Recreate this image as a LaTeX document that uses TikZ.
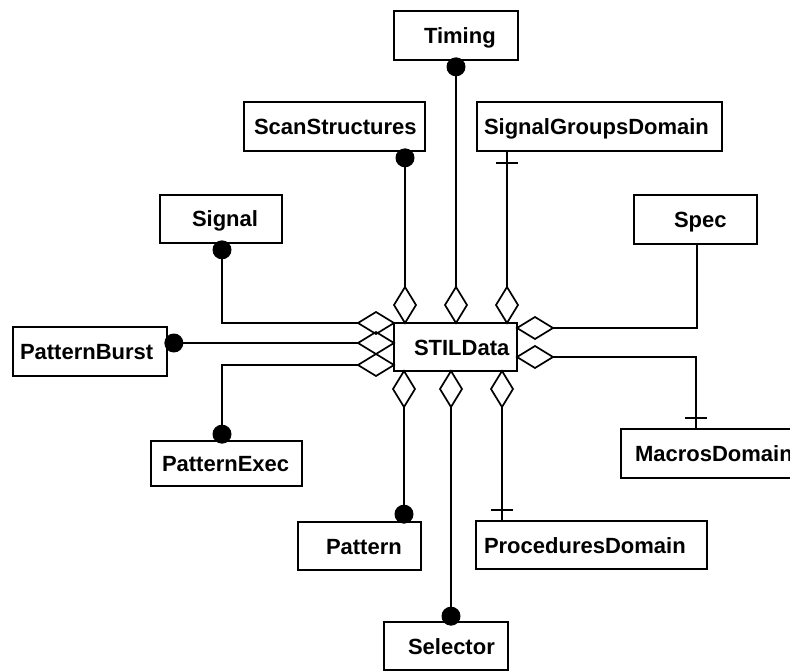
\documentclass[tikz,border=0pt]{standalone}
\usepackage{fontspec}
\setmainfont{Liberation Sans}
\usetikzlibrary{calc}
\begin{document}
\begin{tikzpicture}[x=1pt,y=-1pt,
  line width=1.7pt,
  box/.style={draw, line width=1.7pt, inner xsep=0pt, inner ysep=0pt,
    text height=16pt, text depth=0pt, align=left,
    font=\fontsize{22}{26}\selectfont\bfseries},
  agg/.style={line width=1.7pt},
  conn/.style={line width=1.7pt},
  ball/.style={fill=black}]
\useasboundingbox (0,0) rectangle (790,671);
% boxes
\node[box, text width=124pt, minimum height=49pt] (timing) at (456,35.5) {\hspace*{30pt}Timing};
\node[box, text width=181pt, minimum height=49pt] (scan) at (334.5,126.5) {\hspace*{10pt}ScanStructures};
\node[box, text width=245pt, minimum height=49pt] (sgd) at (599.5,126.5) {\hspace*{7pt}SignalGroupsDomain};
\node[box, text width=122pt, minimum height=48pt] (signal) at (221,219) {\hspace*{32pt}Signal};
\node[box, text width=123pt, minimum height=49pt] (spec) at (695.5,219.5) {\hspace*{40pt}Spec};
\node[box, text width=154pt, minimum height=49pt] (pburst) at (90,351.5) {\hspace*{7pt}PatternBurst};
\node[box, text width=123pt, minimum height=48pt] (stil) at (455.5,347) {\hspace*{20pt}STILData};
\node[box, text width=151pt, minimum height=45pt] (pexec) at (226.5,463.5) {\hspace*{11pt}PatternExec};
\node[box, text width=190pt, minimum height=49pt] (macros) at (716,453.5) {\hspace*{14pt}MacrosDomain};
\node[box, text width=123pt, minimum height=48pt] (pattern) at (359.5,546) {\hspace*{28pt}Pattern};
\node[box, text width=231pt, minimum height=48pt] (proc) at (591.5,545) {\hspace*{8pt}ProceduresDomain};
\node[box, text width=124pt, minimum height=48pt] (sel) at (446,646) {\hspace*{24pt}Selector};
% diamond tips (outer ends)
\coordinate (dT1) at (405,287);
\coordinate (dT2) at (456,287);
\coordinate (dT3) at (507,287);
\coordinate (dB1) at (404,407);
\coordinate (dB2) at (451,407);
\coordinate (dB3) at (502,407);
\coordinate (dL1) at (358,323);
\coordinate (dL2) at (358,343);
\coordinate (dL3) at (358,365);
\coordinate (dR1) at (553,328);
\coordinate (dR2) at (553,357);
% diamonds
\foreach \c in {dT1,dT2,dT3}{
  \draw[agg] (\c) -- ++(11,18) -- ++(-11,18) -- ++(-11,-18) -- cycle;}
\foreach \c in {dB1,dB2,dB3}{
  \draw[agg] (\c) -- ++(11,-18) -- ++(-11,-18) -- ++(-11,18) -- cycle;}
\foreach \c in {dL1,dL2,dL3}{
  \draw[agg] (\c) -- ++(18,-11) -- ++(18,11) -- ++(-18,11) -- cycle;}
\foreach \c in {dR1,dR2}{
  \draw[agg] (\c) -- ++(-18,-11) -- ++(-18,11) -- ++(18,11) -- cycle;}
% ball ends
\coordinate (bTim) at ($(456,0 |- timing.south)+(0,6)$);
\coordinate (bScan) at ($(405,0 |- scan.south)+(0,6)$);
\coordinate (bSig) at ($(222,0 |- signal.south)+(0,6)$);
\coordinate (bPB) at ($(pburst.east |- 0,343)+(6,0)$);
\coordinate (bPE) at ($(222,0 |- pexec.north)+(0,-6)$);
\coordinate (bPat) at ($(404,0 |- pattern.north)+(0,-7)$);
\coordinate (bSel) at ($(451,0 |- sel.north)+(0,-5)$);
% plain ends
\coordinate (pSgd) at (507,0 |- sgd.south);
\coordinate (pSpec) at (697,0 |- spec.south);
\coordinate (pMac) at (696,0 |- macros.north);
\coordinate (pProc) at (502,0 |- proc.north);
% connectors
\draw[conn] (bTim) -- (dT2);
\draw[conn] (bScan) -- (dT1);
\draw[conn] (pSgd) -- (dT3);
\draw[conn] (bSig) |- (dL1);
\draw[conn] (bPB) -- (dL2);
\draw[conn] (dL3) -| (bPE);
\draw[conn] (dR1) -| (pSpec);
\draw[conn] (dR2) -| (pMac);
\draw[conn] (dB1) -- (bPat);
\draw[conn] (dB2) -- (bSel);
\draw[conn] (dB3) -- (pProc);
% balls
\foreach \c in {bTim,bScan,bSig,bPB,bPE,bPat,bSel}{
  \fill[ball] (\c) circle (9.5pt);}
% ticks
\draw[conn] ($(pSgd)+(-11,11)$) -- ++(22,0);
\draw[conn] ($(pMac)+(-11,-10)$) -- ++(22,0);
\draw[conn] ($(pProc)+(-11,-10)$) -- ++(22,0);
\end{tikzpicture}
\end{document}
